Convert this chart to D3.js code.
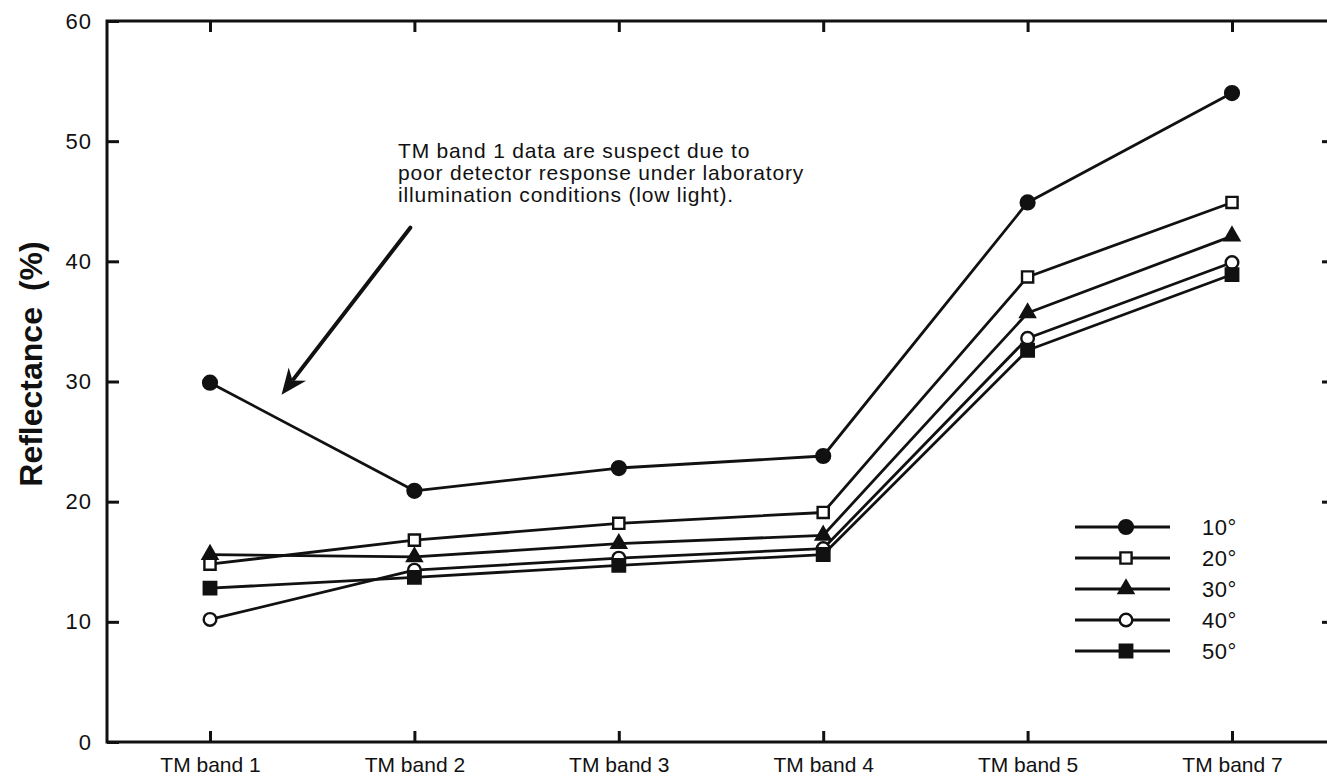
<!DOCTYPE html>
<html>
<head>
<meta charset="utf-8">
<script src="https://cdn.jsdelivr.net/npm/d3@7"></script>
<style>
  html, body { margin: 0; padding: 0; background: #fff; }
  svg { display: block; }
  text { font-family: "Liberation Sans", Arial, Helvetica, sans-serif; fill: #111; }
</style>
</head>
<body>
<svg id="chart" width="1327" height="779"></svg>
<script>
// ---- data ----
const bands = ["TM band 1", "TM band 2", "TM band 3", "TM band 4", "TM band 5", "TM band 7"];
const angles = ["10°", "20°", "30°", "40°", "50°"];
const r10 = [29.9, 20.9, 22.8, 23.8, 44.9, 54.0];
const r20 = [14.8, 16.8, 18.2, 19.1, 38.7, 44.9];
const r30 = [15.6, 15.4, 16.5, 17.2, 35.7, 42.1];
const r40 = [10.2, 14.3, 15.3, 16.1, 33.6, 39.9];
const r50 = [12.8, 13.7, 14.7, 15.6, 32.6, 38.9];
const yTicks = [0, 10, 20, 30, 40, 50, 60];
const yTitle = "Reflectance";
const yUnit = "(%)";
const note = [
  "TM band 1 data are suspect due to",
  "poor detector response under laboratory",
  "illumination conditions (low light)."
];

const seriesValues = [r10, r20, r30, r40, r50];
const markerShapes = [
  {type: d3.symbolCircle, size: 150, fill: "#111"},
  {type: d3.symbolSquare, size: 125, fill: "#fff"},
  {type: d3.symbolTriangle, size: 90, fill: "#111"},
  {type: d3.symbolCircle, size: 125, fill: "#fff"},
  {type: d3.symbolSquare, size: 155, fill: "#111"}
];

// ---- layout ----
const svg = d3.select("#chart");
const frame = {left: 107, top: 21, right: 1331, bottom: 742};

const x = d3.scalePoint().domain(bands).range([210, 1232]);
const xi = d3.scaleLinear().domain([0, bands.length - 1]).range([210, 1232]);
const y = d3.scaleLinear().domain([0, 60]).range([frame.bottom, frame.top]);

// frame
svg.append("rect")
  .attr("x", frame.left).attr("y", frame.top)
  .attr("width", frame.right - frame.left).attr("height", frame.bottom - frame.top)
  .attr("fill", "none").attr("stroke", "#111").attr("stroke-width", 3);

// axes
const gL = svg.append("g").attr("transform", `translate(${frame.left},0)`)
  .call(d3.axisLeft(y).tickValues(yTicks).tickSize(-12).tickPadding(15).tickFormat(d3.format("d")));
const gB = svg.append("g").attr("transform", `translate(0,${frame.bottom})`)
  .call(d3.axisBottom(x).tickSize(-11).tickPadding(15));
const gT = svg.append("g").attr("transform", `translate(0,${frame.top})`)
  .call(d3.axisTop(x).tickSize(-11).tickFormat(""));
const gR = svg.append("g").attr("transform", `translate(${frame.right},0)`)
  .call(d3.axisRight(y).tickValues([10, 20, 30, 40, 50]).tickSize(-9).tickFormat(""));

[gL, gB, gT, gR].forEach(g => {
  g.select(".domain").remove();
  g.selectAll(".tick line").attr("stroke", "#111").attr("stroke-width", 3);
  g.selectAll("text").attr("fill", "#111").style("font-family", "'Liberation Sans', Arial, sans-serif");
});
gL.selectAll("text").style("font-size", "22px").style("letter-spacing", "1px");
gB.selectAll("text").style("font-size", "21px");

// y title
const yt = svg.append("text")
  .attr("transform", "translate(42,364) rotate(-90)")
  .attr("text-anchor", "middle")
  .style("font-size", "32px").style("font-weight", "bold");
yt.append("tspan").text(yTitle);
yt.append("tspan").attr("dx", 16).text(yUnit);

// lines
const line = d3.line().x((d, i) => x(bands[i])).y(d => y(d));
seriesValues.forEach((vals, k) => {
  svg.append("path").datum(vals)
    .attr("d", line)
    .attr("fill", "none").attr("stroke", "#111").attr("stroke-width", 2.8)
    .attr("stroke-linejoin", "round");
});
// markers
seriesValues.forEach((vals, k) => {
  const m = markerShapes[k];
  svg.append("g").selectAll("path").data(vals).join("path")
    .attr("transform", (d, i) => `translate(${x(bands[i])},${y(d)})`)
    .attr("d", d3.symbol().type(m.type).size(m.size))
    .attr("fill", m.fill).attr("stroke", "#111").attr("stroke-width", 2.4);
});

// legend
const legend = svg.append("g");
angles.forEach((a, k) => {
  const ly = 527 + k * 31;
  const m = markerShapes[k];
  legend.append("line").attr("x1", 1075).attr("x2", 1170).attr("y1", ly).attr("y2", ly)
    .attr("stroke", "#111").attr("stroke-width", 2.8);
  legend.append("path").attr("transform", `translate(1126,${ly})`)
    .attr("d", d3.symbol().type(m.type).size(m.size))
    .attr("fill", m.fill).attr("stroke", "#111").attr("stroke-width", 2.4);
  legend.append("text").attr("x", 1202).attr("y", ly + 8)
    .style("font-size", "22px").style("letter-spacing", "0.5px").text(a);
});

// annotation (positioned in data space)
const ann = svg.append("g");
note.forEach((t, i) => {
  ann.append("text").attr("x", xi(0.92)).attr("y", y(48.6) + i * 22)
    .style("font-size", "21px").style("letter-spacing", "0.8px").text(t);
});
const ax0 = xi(0.98), ay0 = y(42.8), ax1 = xi(0.35), ay1 = y(28.9);
const ang = Math.atan2(ay1 - ay0, ax1 - ax0);
const headLen = 26, headW = 11;
const bx = ax1 - headLen * Math.cos(ang), by = ay1 - headLen * Math.sin(ang);
ann.append("line").attr("x1", ax0).attr("y1", ay0).attr("x2", bx + 6 * Math.cos(ang)).attr("y2", by + 6 * Math.sin(ang))
  .attr("stroke", "#111").attr("stroke-width", 4).attr("stroke-linecap", "round");
const px = -Math.sin(ang), py = Math.cos(ang);
ann.append("path")
  .attr("d", `M${ax1},${ay1} L${bx + headW * px},${by + headW * py} L${bx + 8 * Math.cos(ang)},${by + 8 * Math.sin(ang)} L${bx - headW * px},${by - headW * py} Z`)
  .attr("fill", "#111");
</script>
</body>
</html>
